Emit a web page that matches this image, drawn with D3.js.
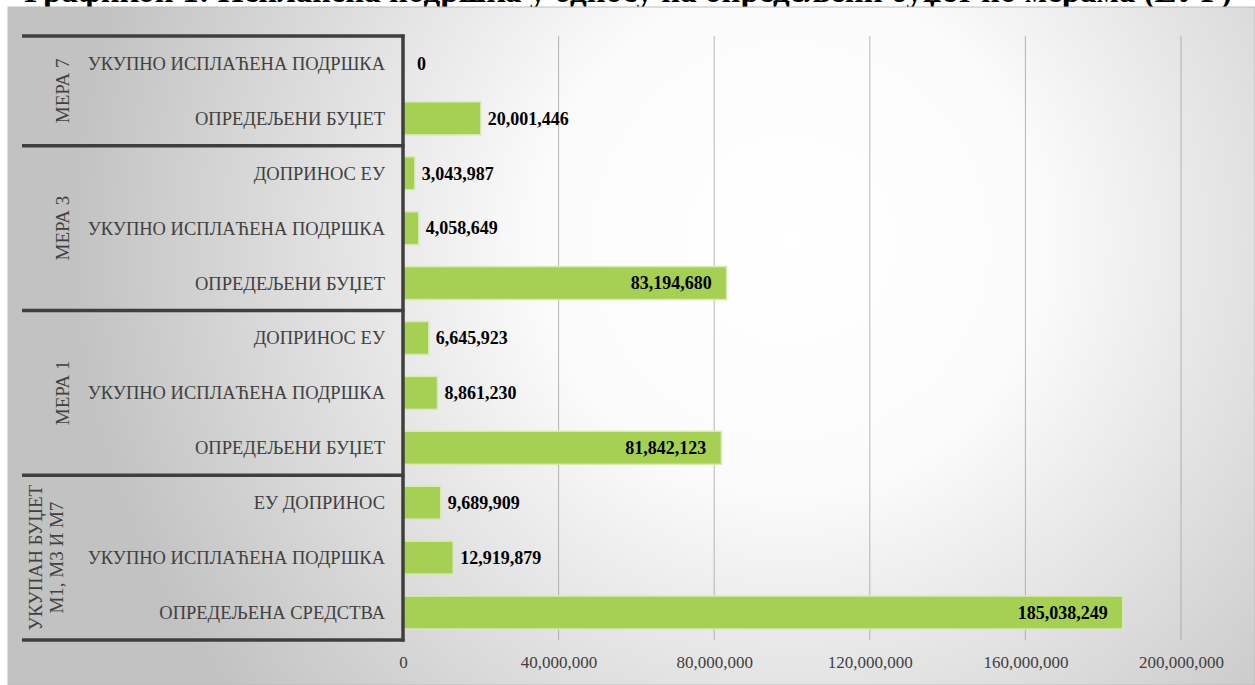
<!DOCTYPE html>
<html>
<head>
<meta charset="utf-8">
<script src="https://cdn.jsdelivr.net/npm/d3@7"></script>
<style>
  html, body { margin: 0; padding: 0; background: #fff; }
  svg { display: block; font-family: "Liberation Serif", "DejaVu Serif", serif; }
</style>
</head>
<body>
<script>
// data, top row first
const groupNames = [['МЕРА 7'], ['МЕРА 3'], ['МЕРА 1'], ['УКУПАН БУЏЕТ', 'М1, М3 И М7']];
const groupSizes = [2, 3, 3, 3];
const categories = [
    'УКУПНО ИСПЛАЋЕНА ПОДРШКА', 'ОПРЕДЕЉЕНИ БУЏЕТ',
    'ДОПРИНОС ЕУ', 'УКУПНО ИСПЛАЋЕНА ПОДРШКА', 'ОПРЕДЕЉЕНИ БУЏЕТ',
    'ДОПРИНОС ЕУ', 'УКУПНО ИСПЛАЋЕНА ПОДРШКА', 'ОПРЕДЕЉЕНИ БУЏЕТ',
    'ЕУ ДОПРИНОС', 'УКУПНО ИСПЛАЋЕНА ПОДРШКА', 'ОПРЕДЕЉЕНА СРЕДСТВА'
];
const values = [0, 20001446, 3043987, 4058649, 83194680, 6645923, 8861230, 81842123, 9689909, 12919879, 185038249];
const xTicks = [0, 40000000, 80000000, 120000000, 160000000, 200000000];
const title = 'Графикон 1: Исплаћена подршка у односу на опредељени буџет по мерама (ЕУР)';

const width = 1255, height = 685;
const plotLeft = 403, plotRight = 1181, plotTop = 36, plotBottom = 640;

const svg = d3.select('body').append('svg')
    .attr('width', width)
    .attr('height', height);

// title sits above the chart box, mostly hidden behind it
svg.append('text')
    .attr('x', 1232)
    .attr('y', 2)
    .attr('text-anchor', 'end')
    .style('font-family', '"Liberation Serif", serif')
    .style('font-size', '33px')
    .style('font-weight', 'bold')
    .text(title);

const defs = svg.append('defs');
const grad = defs.append('radialGradient')
    .attr('id', 'bg')
    .attr('gradientUnits', 'userSpaceOnUse')
    .attr('cx', 790).attr('cy', 240).attr('r', 720);
grad.append('stop').attr('offset', '0%').attr('stop-color', '#ffffff');
grad.append('stop').attr('offset', '35%').attr('stop-color', '#fbfbfb');
grad.append('stop').attr('offset', '100%').attr('stop-color', '#c2c2c2');

svg.append('rect')
    .attr('x', 8).attr('y', 7)
    .attr('width', width - 8).attr('height', height - 7)
    .attr('fill', 'url(#bg)')
    .attr('stroke', '#bdbdbd')
    .attr('stroke-width', 1);

const x = d3.scaleLinear()
    .domain([0, 200000000])
    .range([plotLeft, plotRight]);

const y = d3.scaleBand()
    .domain(d3.range(values.length))
    .range([plotTop, plotBottom])
    .paddingInner(0.4)
    .paddingOuter(0.2);

// grid lines
svg.append('g')
    .selectAll('line')
    .data(xTicks.slice(1))
    .join('line')
    .attr('x1', d => x(d)).attr('x2', d => x(d))
    .attr('y1', plotTop).attr('y2', plotBottom)
    .attr('stroke', '#9a9a9a')
    .attr('stroke-opacity', 0.7)
    .attr('stroke-width', 1);

// x axis labels
const xAxis = svg.append('g')
    .attr('transform', `translate(0,${plotBottom})`)
    .call(d3.axisBottom(x).tickValues(xTicks).tickSize(0).tickPadding(16).tickFormat(d3.format(',')));
xAxis.select('.domain').remove();
xAxis.selectAll('text')
    .style('font-family', '"Liberation Serif", serif')
    .style('font-size', '17px')
    .attr('fill', '#404040');

// bars
svg.append('g')
    .selectAll('rect')
    .data(values)
    .join('rect')
    .attr('x', x(0))
    .attr('y', (d, i) => y(i))
    .attr('width', d => x(d) - x(0))
    .attr('height', y.bandwidth())
    .attr('fill', '#a5d054')
    .attr('stroke', '#d6ebb2')
    .attr('stroke-width', 1.5);

// value labels
const bigCut = 50000000;
svg.append('g')
    .selectAll('text')
    .data(values)
    .join('text')
    .attr('x', d => d > bigCut ? x(d) - 15 : x(d) + (d === 0 ? 14 : 7))
    .attr('y', (d, i) => y(i) + y.bandwidth() / 2)
    .attr('dy', '0.35em')
    .attr('text-anchor', d => d > bigCut ? 'end' : 'start')
    .style('font-size', '18px')
    .style('font-weight', 'bold')
    .attr('fill', '#000')
    .text(d => d3.format(',')(d));

// category labels
svg.append('g')
    .selectAll('text')
    .data(categories)
    .join('text')
    .attr('x', 385)
    .attr('y', (d, i) => y(i) + y.bandwidth() / 2)
    .attr('dy', '0.35em')
    .attr('text-anchor', 'end')
    .style('font-size', '18.5px')
    .attr('fill', '#404040')
    .text(d => d);

// group table: separators and rotated names
const step = y.step();
const starts = groupSizes.map((s, i) => d3.sum(groupSizes.slice(0, i)));
const bounds = starts.map(s => plotTop + s * step).concat([plotBottom]);

svg.append('g')
    .selectAll('line')
    .data(bounds)
    .join('line')
    .attr('x1', 22).attr('x2', plotLeft + 1.5)
    .attr('y1', d => d).attr('y2', d => d)
    .attr('stroke', '#3f3f3f')
    .attr('stroke-width', 3.5);

svg.append('line')
    .attr('x1', plotLeft).attr('x2', plotLeft)
    .attr('y1', plotTop - 1.5).attr('y2', plotBottom + 1.5)
    .attr('stroke', '#3f3f3f')
    .attr('stroke-width', 3.5);

const gl = svg.append('g')
    .selectAll('text')
    .data(groupNames)
    .join('text')
    .attr('transform', (d, i) => {
        const cy = plotTop + (starts[i] + groupSizes[i] / 2) * step;
        return `translate(${d.length > 1 ? 47 : 62},${cy}) rotate(-90)`;
    })
    .attr('text-anchor', 'middle')
    .style('font-size', '19px')
    .attr('fill', '#404040');

gl.selectAll('tspan')
    .data(d => d.map((t, j) => ({t, j, n: d.length})))
    .join('tspan')
    .attr('x', 0)
    .attr('dy', d => d.j === 0 ? (d.n > 1 ? '-0.25em' : '0.35em') : '1.1em')
    .text(d => d.t);
</script>
</body>
</html>
